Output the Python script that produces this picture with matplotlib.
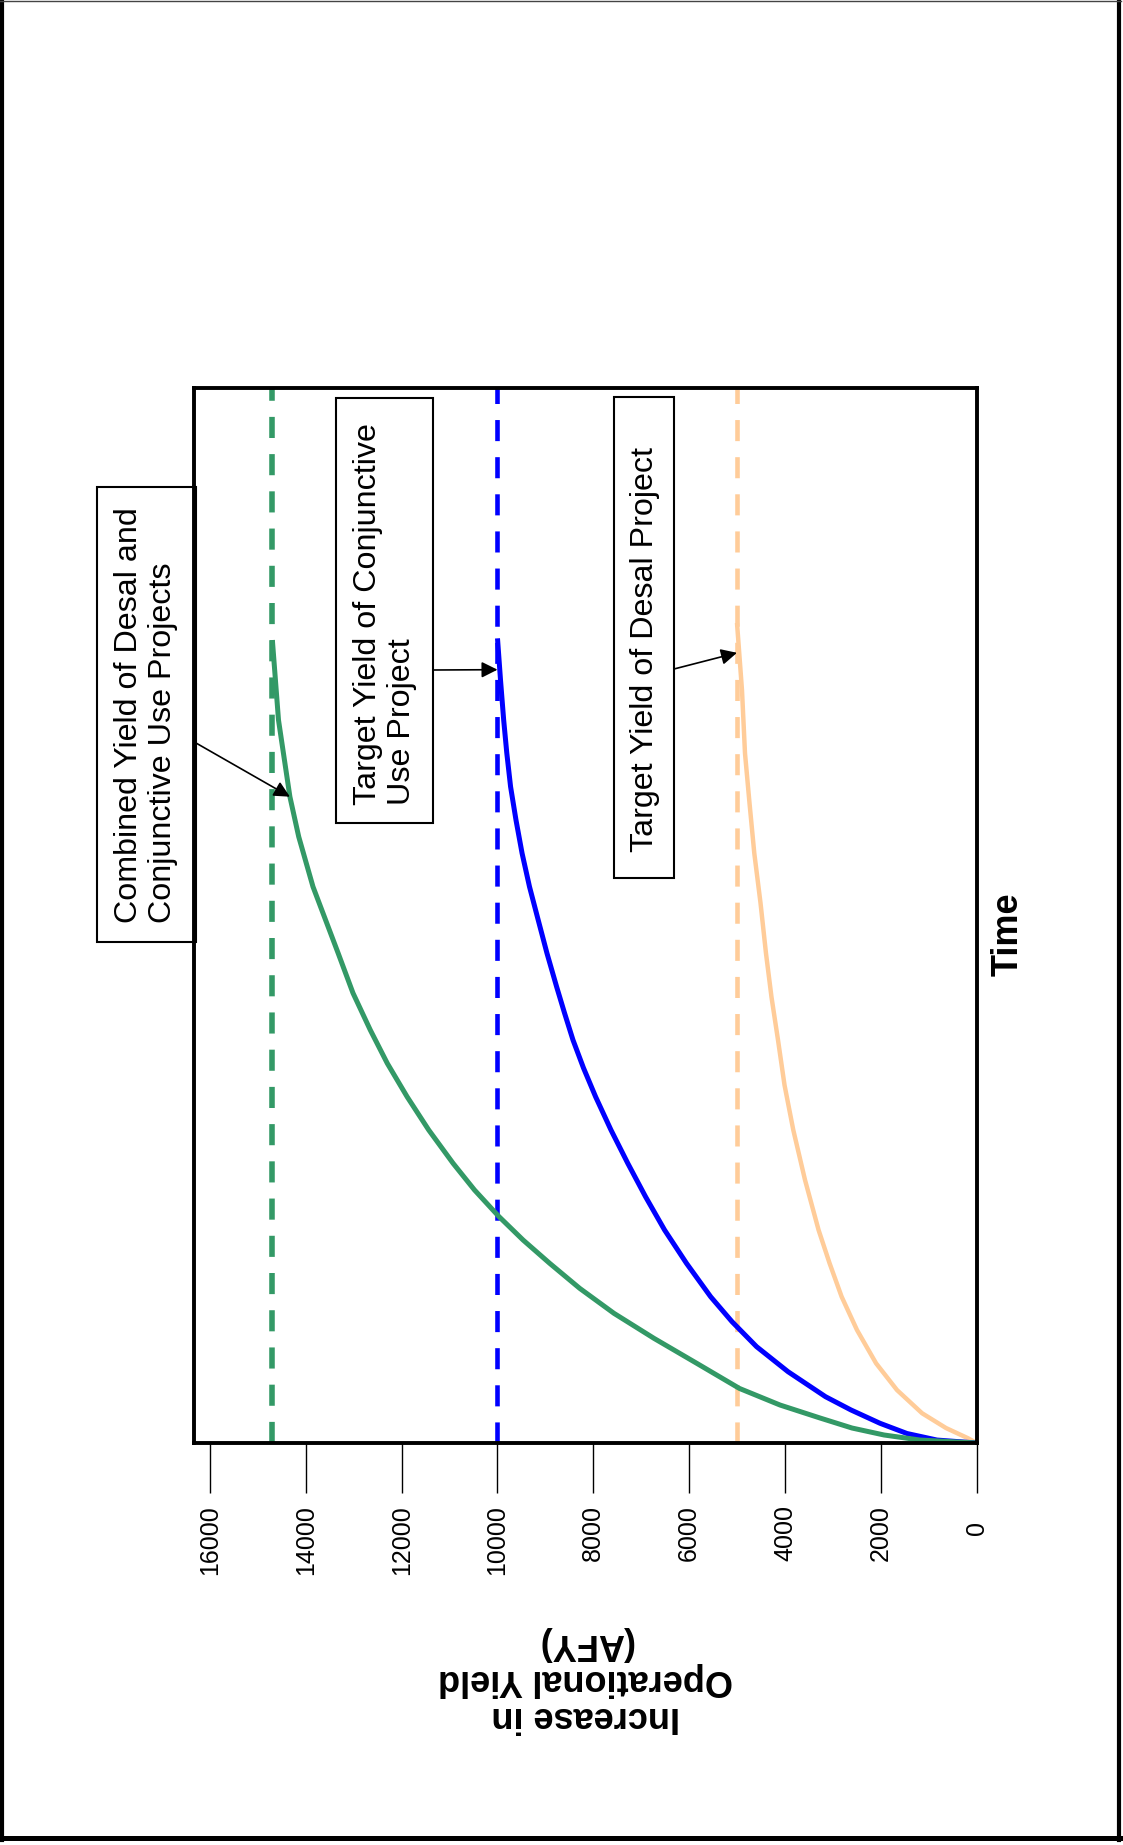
import matplotlib
matplotlib.use("Agg")
import matplotlib.pyplot as plt
import matplotlib.transforms as mtransforms
from matplotlib.lines import Line2D
from matplotlib.patches import Rectangle

plt.rcParams["font.family"] = ["Liberation Sans", "DejaVu Sans"]

# values: time is unitless (0-100), yield in AFY
time_combined = [0, 0.28, 0.76, 1.42, 2.37, 3.60, 5.17, 7.55, 9.92, 12.29, 14.66, 17.03, 19.24, 21.45,
                 23.98, 26.51, 29.67, 32.82, 35.99, 39.15, 42.65, 46.42, 52.73, 57.47, 61.26, 68.53, 76.11]
yield_combined = [0, 1180, 1931, 2599, 3267, 4102, 4948, 5839, 6733, 7568, 8284, 8910, 9466, 9967,
                  10480, 10927, 11436, 11887, 12301, 12656, 13017, 13326, 13852, 14150, 14334, 14572, 14700]

time_conjunctive = [0, 0.28, 0.90, 1.87, 3.13, 4.39, 6.76, 9.13, 11.50, 13.87, 17.03, 20.19, 23.35, 26.51,
                    29.67, 32.82, 35.55, 38.20, 40.76, 43.25, 46.42, 49.57, 52.73, 55.90, 59.05,
                    62.21, 65.40, 68.53, 72.32, 76.27]
yield_conjunctive = [0, 825, 1451, 2015, 2620, 3152, 3935, 4591, 5104, 5551, 6054, 6512, 6910, 7280,
                     7631, 7952, 8205, 8424, 8601, 8766, 8967, 9150, 9332, 9487, 9614,
                     9727, 9806, 9871, 9937, 10000]

time_desal = [0, 0.45, 1.42, 2.82, 5.02, 7.55, 10.71, 13.87, 17.06, 20.19, 24.93, 29.67, 33.93,
              38.20, 42.27, 46.42, 51.18, 55.90, 60.66, 65.37, 71.37, 77.73]
yield_desal = [0, 177, 637, 1136, 1660, 2096, 2495, 2816, 3069, 3297, 3580, 3825, 4008,
               4144, 4280, 4395, 4509, 4639, 4739, 4833, 4896, 5000]

target_combined = 14700
target_conjunctive = 10000
target_desal = 5000

yield_ticks = [0, 2000, 4000, 6000, 8000, 10000, 12000, 14000, 16000]
yield_tick_labels = [str(v) for v in yield_ticks]

green = "#339966"
blue = "#0000FF"
tan = "#FFCC99"

W, H = 1123, 1845
fig = plt.figure(figsize=(W / 100, H / 100), dpi=100)


def fx(px):
    return px / W


def fy(py):
    return 1 - py / H


# the chart is drawn turned a quarter turn: yield runs right to left, time upward
ax = fig.add_axes([fx(194), fy(1443), fx(976.5) - fx(194), fy(388) - fy(1443)])

ax.axvline(target_combined, color=green, lw=4, dashes=(3.8, 2.9))
ax.axvline(target_conjunctive, color=blue, lw=3.3, dashes=(4.6, 3.5))
ax.axvline(target_desal, color=tan, lw=3.3, dashes=(4.6, 3.5))

line_kw = dict(solid_capstyle="butt", solid_joinstyle="round")
ax.plot(yield_desal, time_desal, color=tan, lw=3.2, **line_kw)
ax.plot(yield_conjunctive, time_conjunctive, color=blue, lw=3.6, **line_kw)
ax.plot(yield_combined, time_combined, color=green, lw=3.6, **line_kw)

ax.set_xlim(16336, 0)
ax.set_ylim(0, 100)

ax.set_xticks(yield_ticks)
ax.set_xticklabels(yield_tick_labels, rotation=90, fontsize=18)
ax.tick_params(axis="x", direction="out", length=36, width=1, pad=8.5)
ax.set_yticks([])
for s in ax.spines.values():
    s.set_linewidth(2.8)

# the "0" label sits a little lower than the others
zero_lbl = ax.get_xticklabels()[0]
zero_lbl.set_transform(zero_lbl.get_transform()
                       + mtransforms.ScaledTranslation(0, -12 / 72, fig.dpi_scale_trans))

ax.set_xlabel("Increase in\nOperational Yield\n(AFY)", fontsize=26, fontweight="bold",
              rotation=180, linespacing=1.05)
ax.xaxis.label.set(ha="center", va="center")
ax.xaxis.set_label_coords(0.5, (1443 - 1680) / 1055)

ax.yaxis.set_label_position("right")
ax.set_ylabel("Time", fontsize=26, fontweight="bold")
ax.yaxis.label.set(ha="center", va="center", rotation_mode="anchor")
ax.yaxis.set_label_coords((1008 - 194) / 782.5, (1443 - 934.5) / 1055)

# label boxes
boxes = [
    (97, 487, 196, 942, 146, 715, "Combined Yield of Desal and\nConjunctive Use Projects"),
    (335.5, 398, 433, 823, 385, 614, "Target Yield of Conjunctive\nUse Project"),
    (614, 397, 674, 878, 645, 650, "Target Yield of Desal Project"),
]
for x0, y0, x1, y1, tx, ty, label in boxes:
    fig.add_artist(Rectangle((fx(x0), fy(y1)), fx(x1) - fx(x0), fy(y0) - fy(y1),
                             transform=fig.transFigure, fill=False, ec="black", lw=1.5))
    fig.text(fx(tx), fy(ty), label, rotation=90, ha="center", va="center",
             multialignment="left", fontsize=23.2, linespacing=1.2)

arrow = dict(arrowstyle="-|>", color="black", lw=1.2, mutation_scale=24, shrinkA=0, shrinkB=0)
ax.annotate("", xy=(yield_combined[24], time_combined[24]), xytext=(196, H - 743),
            textcoords="figure pixels", arrowprops=arrow)
ax.annotate("", xy=(target_conjunctive, 73.3), xytext=(433, H - 670),
            textcoords="figure pixels", arrowprops=arrow)
ax.annotate("", xy=(target_desal, 74.9), xytext=(674, H - 669),
            textcoords="figure pixels", arrowprops=arrow)

# page border
for xs, ys, lw, c in [
    ([2, 2], [0, 1840], 3, "black"),
    ([1119, 1119], [0, 1840], 3, "black"),
    ([0, 1121], [1837.5, 1837.5], 3.6, "black"),
    ([0, 1121], [0.5, 0.5], 1, "#444444"),
]:
    fig.add_artist(Line2D([fx(v) for v in xs], [fy(v) for v in ys], lw=lw, color=c,
                          transform=fig.transFigure))

fig.savefig("out.png", dpi=100)
